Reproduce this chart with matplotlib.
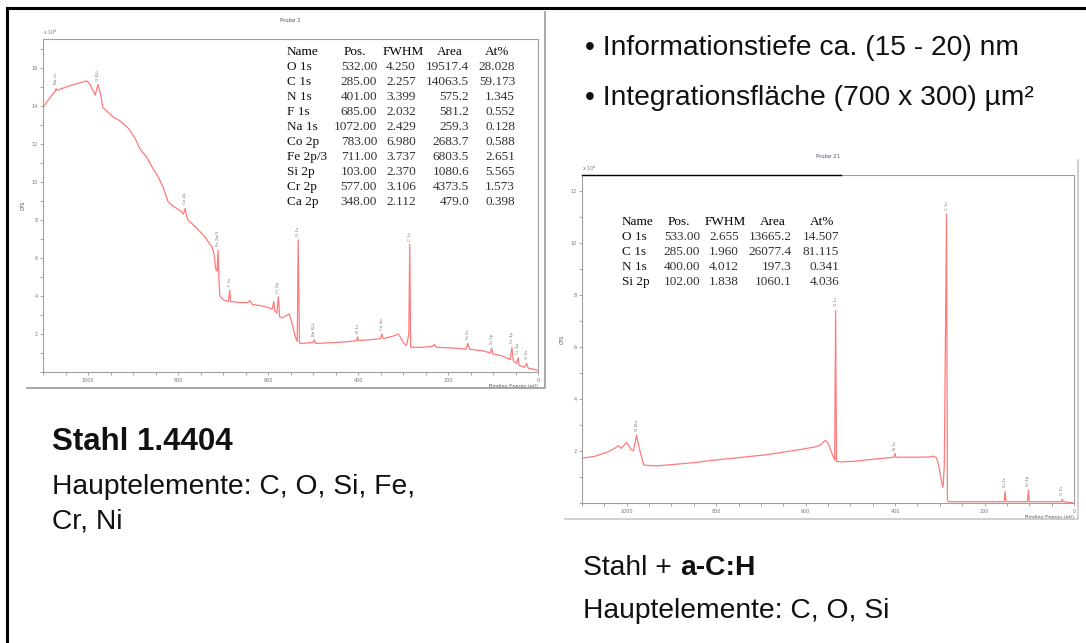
import matplotlib.pyplot as plt
from matplotlib.lines import Line2D
from matplotlib.ticker import MultipleLocator

W, H = 1086, 643

# --- Probe 2 (Stahl 1.4404): binding energy (eV) / CPS (x10^4)
be_left = [1100, 1085, 1073, 1071, 1069, 1040, 1003, 995, 984, 978, 972, 967, 944, 929, 910,
           896, 884, 870, 856, 845, 833, 822, 810, 796, 788, 784, 781, 778, 760, 740, 729,
           724, 720, 716, 713, 711, 709, 707, 700, 688, 685, 683, 660, 645, 640, 635, 620,
           600, 591, 587, 585, 580, 577, 574, 567, 560, 553, 547, 540, 535, 533, 530, 527,
           500, 497, 494, 450, 420, 403, 401, 399, 370, 350, 347, 344, 320, 311, 305, 298,
           292, 287, 285, 283, 260, 233, 230, 226, 180, 160, 156, 152, 120, 106, 103, 100,
           80, 62, 58, 55, 48, 44, 42, 30, 25, 22, 10, 0]
cps_left = [13.9, 14.4, 14.75, 14.9, 14.8, 15.05, 15.3, 15.1, 14.55, 15.1, 14.6, 13.9, 13.4, 13.2, 12.8,
            12.3, 11.7, 11.3, 10.7, 10.3, 9.7, 8.95, 8.7, 8.5, 8.3, 8.6, 8.2, 8.0, 7.6, 7.1, 6.7,
            6.55, 6.2, 5.4, 5.3, 6.4, 4.8, 4.0, 3.8, 3.7, 4.3, 3.7, 3.65, 3.65, 3.75, 3.55, 3.5,
            3.4, 3.3, 3.7, 3.2, 3.1, 3.95, 2.9, 2.85, 2.95, 3.05, 2.6, 1.9, 1.6, 6.95, 1.55, 1.5,
            1.55, 1.7, 1.5, 1.55, 1.6, 1.65, 1.85, 1.65, 1.7, 1.75, 2.0, 1.75, 1.9, 2.0, 1.8, 1.5,
            1.4, 2.0, 6.7, 1.3, 1.3, 1.35, 1.45, 1.3, 1.25, 1.2, 1.5, 1.2, 1.1, 1.0, 1.25, 0.95,
            0.85, 0.65, 1.3, 0.6, 0.45, 0.75, 0.35, 0.25, 0.45, 0.2, 0.15, 0.08]

# --- Probe 21 (Stahl + a-C:H)
be_right = [1100, 1070, 1041, 1025, 1019, 1012, 1000, 990, 985, 978, 972, 962, 945, 929, 850,
            802, 690, 617, 580, 568, 560, 556, 550, 540, 535, 533, 531, 520, 493, 450, 402,
            400, 398, 350, 321, 315, 308, 303, 297, 293, 290, 285, 283, 280, 210, 156, 154,
            152, 104, 102, 100, 28, 26, 24, 0]
cps_right = [1.72, 1.8, 1.97, 2.12, 2.2, 2.1, 2.33, 2.05, 2.0, 2.6, 2.1, 1.46, 1.43, 1.43, 1.55,
             1.65, 1.85, 2.04, 2.15, 2.22, 2.35, 2.4, 2.3, 1.85, 1.65, 7.4, 1.6, 1.58, 1.6, 1.68, 1.76,
             1.9, 1.76, 1.76, 1.77, 1.8, 1.75, 1.5, 0.9, 0.6, 1.4, 11.1, 0.1, 0.05, 0.05, 0.05, 0.45,
             0.05, 0.05, 0.5, 0.05, 0.05, 0.15, 0.05, 0.0]

# peak labels (name, BE, CPS)
peaks_left = [('Na 1s', 1072, 14.9), ('O KLL', 978, 15.1), ('Co 2p', 784, 8.6), ('Fe 2p/3', 711, 6.4),
              ('F 1s', 685, 4.3), ('Cr 2p', 577, 3.95), ('O 1s', 533, 6.95), ('Na KLL', 497, 1.7),
              ('N 1s', 401, 1.85), ('Ca 2p', 347, 2.0), ('C 1s', 285, 6.7), ('Si 2s', 156, 1.5),
              ('Si 2p', 103, 1.25), ('Fe 3p', 58, 1.3), ('Cr 3p', 44, 0.75), ('O 2s', 25, 0.45)]
peaks_right = [('O KLL', 978, 2.6), ('O 1s', 533, 7.4), ('N 1s', 400, 1.9), ('C 1s', 285, 11.1),
               ('Si 2s', 154, 0.45), ('Si 2p', 102, 0.5), ('O 2s', 26, 0.15)]

tab_head = ['Name', 'Pos.', 'FWHM', 'Area', 'At%']
tab_left = [['O 1s', '532.00', '4.250', '19517.4', '28.028'],
            ['C 1s', '285.00', '2.257', '14063.5', '59.173'],
            ['N 1s', '401.00', '3.399', '575.2', '1.345'],
            ['F 1s', '685.00', '2.032', '581.2', '0.552'],
            ['Na 1s', '1072.00', '2.429', '259.3', '0.128'],
            ['Co 2p', '783.00', '6.980', '2683.7', '0.588'],
            ['Fe 2p/3', '711.00', '3.737', '6803.5', '2.651'],
            ['Si 2p', '103.00', '2.370', '1080.6', '5.565'],
            ['Cr 2p', '577.00', '3.106', '4373.5', '1.573'],
            ['Ca 2p', '348.00', '2.112', '479.0', '0.398']]
tab_right = [['O 1s', '533.00', '2.655', '13665.2', '14.507'],
             ['C 1s', '285.00', '1.960', '26077.4', '81.115'],
             ['N 1s', '400.00', '4.012', '197.3', '0.341'],
             ['Si 2p', '102.00', '1.838', '1060.1', '4.036']]

fig = plt.figure(figsize=(W / 100, H / 100), dpi=100)


def fx(x):
    return x / W


def fy(y):
    return 1 - y / H


def pline(xs, ys, color, lw):
    fig.add_artist(Line2D([fx(v) for v in xs], [fy(v) for v in ys], color=color, lw=lw))


def spectrum(box, be, cps, ymax, peaks, title):
    x0, y0, x1, y1 = box
    ax = fig.add_axes([fx(x0), fy(y1), (x1 - x0) / W, (y1 - y0) / H])
    ax.plot(be, cps, color='#ff7a7a', lw=0.9)
    ax.set_xlim(1100, 0)
    ax.set_ylim(0, ymax)
    ax.xaxis.set_major_locator(MultipleLocator(200))
    ax.xaxis.set_minor_locator(MultipleLocator(50))
    ax.yaxis.set_major_locator(MultipleLocator(2))
    ax.yaxis.set_minor_locator(MultipleLocator(1))
    ax.set_yticks([t for t in range(2, int(ymax) + 1, 2)])
    ax.tick_params(which='both', labelsize=3.5, colors='#999999', labelcolor='#777777',
                   length=2.5, width=0.6, pad=1.5)
    for s in ax.spines.values():
        s.set_color('#a0a0a0')
        s.set_linewidth(0.8)
    ax.set_xlabel('Binding Energy (eV)', fontsize=3.5, color='#555555', loc='right', labelpad=1)
    ax.set_ylabel('CPS', fontsize=3.5, color='#555555', labelpad=4)
    ax.text(0.0, 1.005, 'x 10$^4$', transform=ax.transAxes, fontsize=3.5, color='#777777',
            va='bottom')
    ax.set_title(title, fontsize=4, color='#555577', pad=12)
    for name, b, c in peaks:
        ax.text(b, c + ymax * 0.012, name, rotation=90, fontsize=3, color='#777777',
                ha='center', va='bottom')
    return ax


def table(x_name, x_heads, x_cols, y_top, rows):
    fp = dict(family='Liberation Serif', fontsize=9.5)
    fig.text(fx(x_name), fy(y_top), tab_head[0], va='center', ha='left', color='black', **fp)
    for xh, h in zip(x_heads, tab_head[1:]):
        fig.text(fx(xh), fy(y_top), h, va='center', ha='left', color='black', **fp)
    for i, r in enumerate(rows):
        yy = y_top + 15 * (i + 1)
        fig.text(fx(x_name), fy(yy), r[0], va='center', ha='left', color='#111111', **fp)
        for xc, v in zip(x_cols, r[1:]):
            fig.text(fx(xc), fy(yy), v, va='center', ha='right', color='#333333', **fp)


# slide frame
pline([7, 7], [8, 643], 'black', 2.2)
pline([7, 1086], [8, 8], 'black', 2.2)

# left spectrum
axl = spectrum((43, 39, 538, 372), be_left, cps_left, 17.5, peaks_left, 'Probe 2')
pline([27, 545, 545], [388, 388, 12], '#9a9a9a', 1.2)
table(287, [344, 383, 437, 485], [377, 416, 469, 515], 52, tab_left)

# right spectrum
axr = spectrum((582, 175, 1074, 503), be_right, cps_right, 12.6, peaks_right, 'Probe 21')
pline([582, 841], [175, 175], 'black', 1.0)
pline([565, 1078, 1078], [519, 519, 160], '#c8c8c8', 1.2)
table(622, [668, 705, 760, 810], [700, 739, 792, 839], 222, tab_right)

# slide texts
sans = 'Liberation Sans'
fs = 20.3
fig.text(fx(585), fy(48), '\u2022 Informationstiefe ca. (15 - 20) nm', family=sans, fontsize=fs,
         va='center', color='#111111')
fig.text(fx(585), fy(98), '\u2022 Integrationsfläche (700 x 300) µm²', family=sans, fontsize=fs,
         va='center', color='#111111')
fig.text(fx(52), fy(442), 'Stahl 1.4404', family=sans, fontsize=22.5, fontweight='bold',
         va='center', color='#111111')
fig.text(fx(52), fy(487), 'Hauptelemente: C, O, Si, Fe,', family=sans, fontsize=fs,
         va='center', color='#111111')
fig.text(fx(52), fy(522), 'Cr, Ni', family=sans, fontsize=fs, va='center', color='#111111')
fig.text(fx(583), fy(568), 'Stahl + ', family=sans, fontsize=fs, va='center', color='#111111')
fig.text(fx(680), fy(568), 'a-C:H', family=sans, fontsize=fs, fontweight='bold',
         va='center', color='#111111')
fig.text(fx(583), fy(611), 'Hauptelemente: C, O, Si', family=sans, fontsize=fs,
         va='center', color='#111111')

fig.savefig('out.png', dpi=100)
